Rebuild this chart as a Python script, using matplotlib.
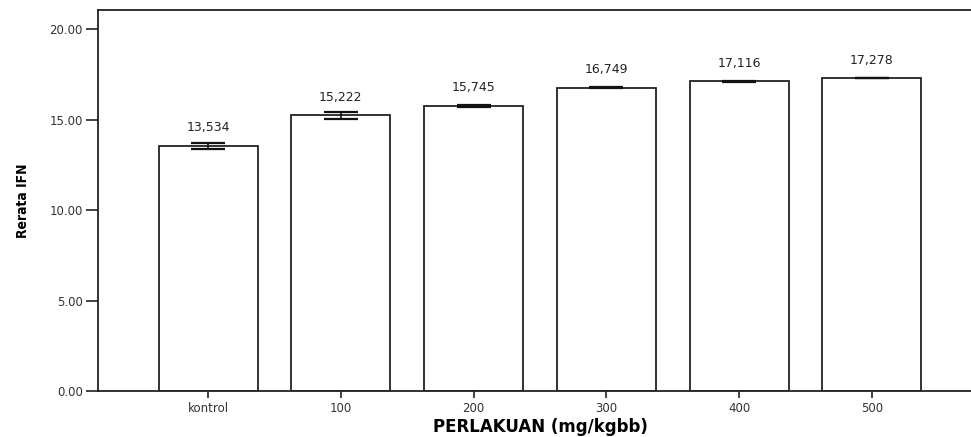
import numpy as np
import matplotlib.pyplot as plt

# Data
perlakuan = ["kontrol", "100", "200", "300", "400", "500"]
rerata = [13.534, 15.222, 15.745, 16.749, 17.116, 17.278]
galat = [0.17, 0.19, 0.06, 0.03, 0.02, 0.01]
label_rerata = ["13,534", "15,222", "15,745", "16,749", "17,116", "17,278"]
yticks = [0, 5, 10, 15, 20]
ytick_labels = ["0.00", "5.00", "10.00", "15.00", "20.00"]

plt.rcParams['font.family'] = ['DejaVu Sans']

fig = plt.figure(figsize=(9.71, 4.37), dpi=100)
ax = fig.add_axes([98/971, 1 - 391/437, (982-98)/971, (391-10)/437])

x = np.arange(len(perlakuan))
ax.bar(x, rerata, width=0.745, color="white", edgecolor="#222222", linewidth=1.3)
ax.errorbar(x, rerata, yerr=galat, fmt="none", ecolor="#111111",
            elinewidth=1.2, capsize=12, capthick=1.6)

for i in range(len(perlakuan)):
    ax.annotate(label_rerata[i], (x[i], rerata[i]), xytext=(0, 13),
                textcoords="offset points", ha="center", va="center",
                fontsize=9, color="#222222")

ax.set_xlim(-0.83, 5.83)
ax.set_ylim(0, 21.05)
ax.set_xticks(x, labels=perlakuan, fontsize=8.5, color="#333333")
ax.set_yticks(yticks, labels=ytick_labels, fontsize=8.5, color="#333333")
ax.tick_params(axis="y", length=9, width=1.2, color="#222222", pad=2)
ax.tick_params(axis="x", length=5, width=1.2, color="#222222", pad=3)

for s in ["left", "bottom", "top", "right"]:
    ax.spines[s].set_linewidth(1.3)
    ax.spines[s].set_color("#222222")

ax.set_ylabel("Rerata IFN", fontsize=10, fontstretch="condensed",
              fontweight="bold", labelpad=14)
ax.set_xlabel("PERLAKUAN (mg/kgbb)", fontsize=12, fontweight="bold", labelpad=2)

fig.savefig("out.png", dpi=100)
